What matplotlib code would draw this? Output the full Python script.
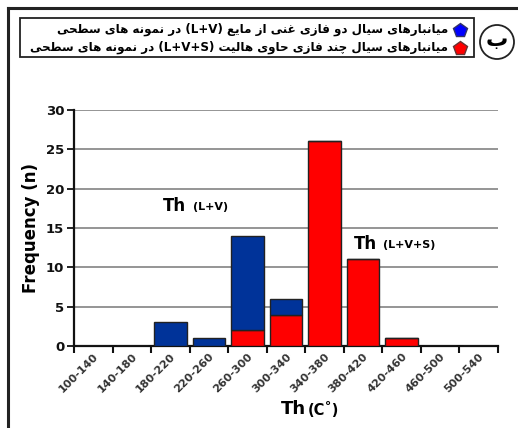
import matplotlib
matplotlib.use("Agg")
import matplotlib.pyplot as plt
from matplotlib.patches import Rectangle, Circle
from matplotlib.lines import Line2D
import numpy as np

# ---- data -------------------------------------------------------------
categories = ["100-140", "140-180", "180-220", "220-260", "260-300", "300-340",
              "340-380", "380-420", "420-460", "460-500", "500-540"]
# two-phase (L+V) inclusions
lv_counts = [0, 0, 3, 1, 12, 2, 0, 0, 0, 0, 0]
# multiphase halite-bearing (L+V+S) inclusions
lvs_counts = [0, 0, 0, 0, 2, 4, 26, 11, 1, 0, 0]
y_ticks = [0, 5, 10, 15, 20, 25, 30]

legend_lv = ["میانبارهای", "سیال", "دو", "فازی", "غنی", "از", "مایع", "(L+V)",
             "در", "نمونه", "های", "سطحی"]
legend_lvs = ["میانبارهای", "سیال", "چند", "فازی", "حاوی", "هالیت", "(L+V+S)",
              "در", "نمونه", "های", "سطحی"]
panel_letter = "ب"

# ---- minimal Arabic-script shaping (presentation forms) ---------------
FORMS = {  # isolated, final, initial, medial
    "ا": ("\uFE8D", "\uFE8E", None, None),
    "ب": ("\uFE8F", "\uFE90", "\uFE91", "\uFE92"),
    "ت": ("\uFE95", "\uFE96", "\uFE97", "\uFE98"),
    "ح": ("\uFEA1", "\uFEA2", "\uFEA3", "\uFEA4"),
    "د": ("\uFEA9", "\uFEAA", None, None),
    "ر": ("\uFEAD", "\uFEAE", None, None),
    "ز": ("\uFEAF", "\uFEB0", None, None),
    "س": ("\uFEB1", "\uFEB2", "\uFEB3", "\uFEB4"),
    "ط": ("\uFEC1", "\uFEC2", "\uFEC3", "\uFEC4"),
    "ع": ("\uFEC9", "\uFECA", "\uFECB", "\uFECC"),
    "غ": ("\uFECD", "\uFECE", "\uFECF", "\uFED0"),
    "ف": ("\uFED1", "\uFED2", "\uFED3", "\uFED4"),
    "ل": ("\uFEDD", "\uFEDE", "\uFEDF", "\uFEE0"),
    "م": ("\uFEE1", "\uFEE2", "\uFEE3", "\uFEE4"),
    "ن": ("\uFEE5", "\uFEE6", "\uFEE7", "\uFEE8"),
    "ه": ("\uFEE9", "\uFEEA", "\uFEEB", "\uFEEC"),
    "و": ("\uFEED", "\uFEEE", None, None),
    "ی": ("\uFBFC", "\uFBFD", "\uFBFE", "\uFBFF"),
    "چ": ("\uFB7A", "\uFB7B", "\uFB7C", "\uFB7D"),
}


def shape_word(word):
    out = []
    n = len(word)
    for i, ch in enumerate(word):
        if ch not in FORMS:
            out.append(ch)
            continue
        prev_joins = i > 0 and word[i - 1] in FORMS and FORMS[word[i - 1]][2] is not None
        next_joins = (i < n - 1 and word[i + 1] in FORMS
                      and FORMS[ch][2] is not None)
        iso, fin, ini, med = FORMS[ch]
        if prev_joins and next_joins:
            out.append(med)
        elif prev_joins:
            out.append(fin)
        elif next_joins:
            out.append(ini)
        else:
            out.append(iso)
    return "".join(reversed(out))


def visual_line(tokens):
    parts = []
    for tok in tokens:
        if any(c in FORMS for c in tok):
            parts.append(shape_word(tok))
        else:
            parts.append(tok)
    return " ".join(reversed(parts))


# ---- figure -----------------------------------------------------------
W, H = 518, 428
fig = plt.figure(figsize=(W / 100, H / 100), dpi=100)
fig.patch.set_facecolor("white")


def fx(px):
    return px / W


def fy(py):
    return 1 - py / H


ax = fig.add_axes([fx(74), fy(346), fx(498) - fx(74), fy(110) - fy(346)])

x = np.arange(len(categories))
blue = "#003399"
red = "#FF0000"
bar_w = 0.84
ax.bar(x, lvs_counts, width=bar_w, color=red, edgecolor="#222222", linewidth=1.0, zorder=3)
ax.bar(x, lv_counts, width=bar_w, bottom=lvs_counts, color=blue, edgecolor="#222222",
       linewidth=1.0, zorder=3)

ax.set_xlim(-0.5, len(categories) - 0.5)
ax.set_ylim(0, 30)
ax.set_yticks(y_ticks)
ax.set_yticklabels([str(v) for v in y_ticks], fontsize=9.5, fontweight="bold",
                   color="#111111")
for v in y_ticks[1:]:
    ax.axhline(v, color="#8c8c8c", linewidth=1.3, zorder=1)

# tick marks between categories, labels at category centres
ax.set_xticks(np.arange(len(categories) + 1) - 0.5)
ax.set_xticklabels([])
ax.set_xticks(x, minor=True)
ax.set_xticklabels(categories, minor=True, rotation=45, ha="right",
                   rotation_mode="anchor", fontsize=8, fontweight="bold",
                   color="#333333")
ax.tick_params(axis="x", which="minor", length=0, pad=4)
ax.tick_params(axis="x", which="major", length=5, width=1.5, direction="out",
               color="#111111")
ax.tick_params(axis="y", length=5, width=1.3, direction="out", color="#111111", pad=2)

for s in ["top", "right"]:
    ax.spines[s].set_visible(False)
ax.spines["left"].set_linewidth(1.6)
ax.spines["bottom"].set_linewidth(1.6)
ax.spines["left"].set_color("#111111")
ax.spines["bottom"].set_color("#111111")

ax.set_ylabel("Frequency (n)", fontsize=12, fontweight="bold", labelpad=4)

# in-plot annotations
fig.text(fx(163), fy(206), "Th", fontsize=12, fontweight="bold", va="center", ha="left")
fig.text(fx(193), fy(207), "(L+V)", fontsize=8, fontweight="bold", va="center", ha="left")
fig.text(fx(354), fy(244), "Th", fontsize=12, fontweight="bold", va="center", ha="left")
fig.text(fx(383), fy(245), "(L+V+S)", fontsize=8, fontweight="bold", va="center",
         ha="left")

# x-axis title
fig.text(fx(281), fy(409), "Th", fontsize=13, fontweight="bold", va="center", ha="left")
fig.text(fx(308), fy(410), "(C\u02da)", fontsize=10.5, fontweight="bold", va="center",
         ha="left")

# outer frame
fig.add_artist(Line2D([fx(8), fx(8)], [fy(8), fy(440)], color="#222222", linewidth=2.2))
fig.add_artist(Line2D([fx(8), fx(530)], [fy(8), fy(8)], color="#222222", linewidth=2.2))

# legend box
fig.add_artist(Rectangle((fx(20), fy(57)), fx(474) - fx(20), fy(18) - fy(57),
                         fill=False, edgecolor="#222222", linewidth=1.3))
fig.text(fx(448), fy(29), visual_line(legend_lv), fontsize=8.6, fontweight="bold",
         family="DejaVu Sans", ha="right", va="center")
fig.text(fx(448), fy(47), visual_line(legend_lvs), fontsize=8.6, fontweight="bold",
         family="DejaVu Sans", ha="right", va="center")
fig.lines.append(Line2D([fx(460)], [fy(30)], marker="p", markersize=10,
                        markerfacecolor="#0000FF", markeredgecolor="#333366",
                        transform=fig.transFigure, figure=fig))
fig.lines.append(Line2D([fx(460)], [fy(48)], marker="p", markersize=10,
                        markerfacecolor="#FF0000", markeredgecolor="#663333",
                        transform=fig.transFigure, figure=fig))

# panel letter in a circle
circ = Circle((497, H - 42), 17, transform=None, fill=False, edgecolor="#222222",
              linewidth=1.3)
fig.patches.append(circ)
fig.text(fx(497), fy(40), shape_word(panel_letter), fontsize=16, fontweight="bold",
         family="DejaVu Sans", ha="center", va="center")

fig.savefig("out.png", dpi=100)
